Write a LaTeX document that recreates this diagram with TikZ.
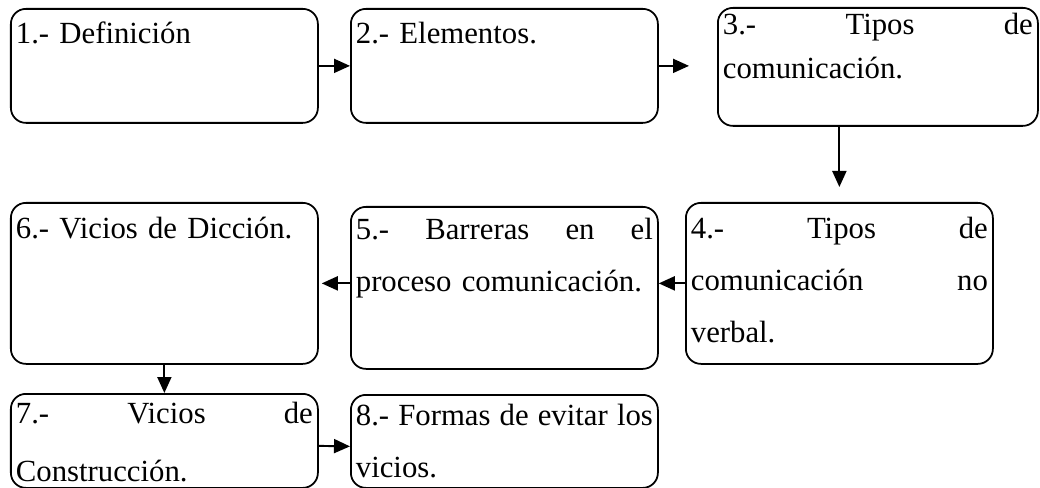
\documentclass[tikz,border=0pt]{standalone}
\usepackage{fontspec}
\setmainfont{Liberation Serif}
\usetikzlibrary{arrows.meta}

\begin{document}
\begin{tikzpicture}[
  tema/.style={draw,rounded corners=0.3cm,line width=1pt,anchor=north west,align=left,inner xsep=0.1cm,inner ysep=0pt,text width=5.94cm,font=\fontsize{17.5}{29.6}\selectfont},
  flecha/.style={line width=1.1pt,-{Triangle[length=0.32cm,width=0.28cm]}}]
\useasboundingbox (0,0) rectangle (20.8,-9.76);
\node[tema,text height=0.70cm,text depth=1.58cm,name=t1] at (0.2,-0.16) {1.- Definición};
\node[tema,text height=0.70cm,text depth=1.58cm,name=t2] at (7.0,-0.16) {2.- Elementos.};
\node[tema,text height=0.54cm,text depth=1.82cm,text width=6.2cm,name=t3,font=\fontsize{17.5}{25}\selectfont] at (14.34,-0.14) {3.-\hfill Tipos\hfill de\\comunicación.};
\node[tema,text height=0.72cm,text depth=2.50cm,name=t4] at (13.70,-4.04) {4.-\hfill Tipos\hfill de\\comunicación\hfill no\\verbal.};
\node[tema,text height=0.66cm,text depth=2.58cm,name=t5] at (7.0,-4.12) {5.-\hfill Barreras\hfill en\hfill el\\proceso comunicación.};
\node[tema,text height=0.72cm,text depth=2.50cm,name=t6] at (0.2,-4.04) {6.- Vicios de Dicción.};
\node[tema,text height=0.60cm,text depth=1.28cm,name=t7,font=\fontsize{17.5}{33}\selectfont] at (0.2,-7.86) {7.-\hfill Vicios\hfill de\\Construcción.};
\node[tema,text height=0.62cm,text depth=1.24cm,name=t8] at (7.0,-7.88) {8.-\hfill Formas\hfill de\hfill evitar\hfill los\\vicios.};
\draw[flecha,name=a12] (t1) -- (t2);
\draw[flecha,name=a23,shorten >=0.56cm] (t2) -- (t2 -| t3.west);
\draw[flecha,name=a34,shorten >=0.3cm] (t3.south -| t4) -- (t4.north);
\draw[flecha,name=a45] (t4.west) -- (t4.west -| t5.east);
\draw[flecha,name=a56,shorten >=0.06cm] (t5.west |- t6) -- (t6.east);
\draw[flecha,name=a67] (t6) -- (t7);
\draw[flecha,name=a78] ([yshift=-1mm]t7.east) -- ([yshift=-1mm]t8.west);
\end{tikzpicture}
\end{document}
